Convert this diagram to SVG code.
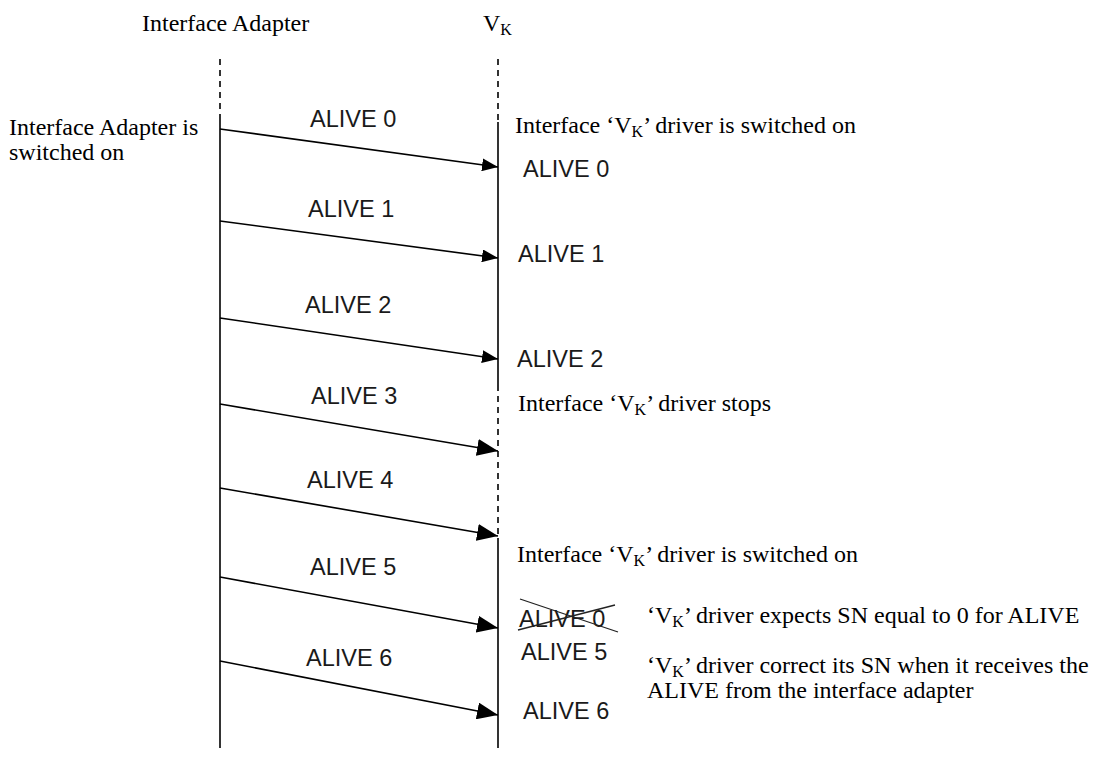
<svg xmlns="http://www.w3.org/2000/svg" width="1098" height="758" viewBox="0 0 1098 758">
  <style>
    .t { font-family: "Liberation Serif", "Times New Roman", serif; font-size: 24px; fill: #000; }
    .sub { font-size: 16px; }
    .a { font-family: "Liberation Sans", Arial, sans-serif; font-size: 23.5px; fill: #1a1a1a; }
    .life { stroke: #000; stroke-width: 1.6; fill: none; }
    .dash { stroke-dasharray: 6 5; }
    .msg { stroke: #000; stroke-width: 1.6; fill: none; }
    .x { stroke: #222; stroke-width: 1.3; }
  </style>
  <defs>
    <marker id="ah" markerUnits="userSpaceOnUse" markerWidth="16" markerHeight="13" refX="16" refY="6.5" orient="auto">
      <path d="M0,0 L16,6.5 L0,13 z" fill="#000"/>
    </marker>
    <marker id="ahL" markerUnits="userSpaceOnUse" markerWidth="21" markerHeight="17" refX="21" refY="8.5" orient="auto">
      <path d="M0,0 L21,8.5 L0,17 z" fill="#000"/>
    </marker>
  </defs>
  <rect width="1098" height="758" fill="#fff"/>

  <g id="lifeline-adapter">
    <text class="t" x="142" y="31">Interface Adapter</text>
    <line class="life dash" x1="220" y1="59" x2="220" y2="118"/>
    <line class="life" x1="220" y1="118" x2="220" y2="748"/>
  </g>

  <g id="lifeline-vk">
    <text class="t" x="483" y="31">V<tspan class="sub" dy="4">K</tspan></text>
    <line class="life dash" x1="498" y1="59" x2="498" y2="122"/>
    <line class="life" x1="498" y1="122" x2="498" y2="385"/>
    <line class="life dash" x1="498" y1="385" x2="498" y2="538"/>
    <line class="life" x1="498" y1="538" x2="498" y2="748"/>
  </g>

  <g id="connectors">
    <line class="msg" x1="220" y1="129" x2="498" y2="167" marker-end="url(#ah)"/>
    <line class="msg" x1="220" y1="221" x2="498" y2="258" marker-end="url(#ah)"/>
    <line class="msg" x1="220" y1="318" x2="498" y2="359" marker-end="url(#ah)"/>
    <line class="msg" x1="220" y1="404" x2="498" y2="451" marker-end="url(#ahL)"/>
    <line class="msg" x1="220" y1="488" x2="498" y2="536" marker-end="url(#ahL)"/>
    <line class="msg" x1="220" y1="577" x2="498" y2="628" marker-end="url(#ahL)"/>
    <line class="msg" x1="220" y1="661" x2="498" y2="715" marker-end="url(#ahL)"/>
  </g>

  <g id="msg-labels">
    <text class="a" x="310" y="127">ALIVE 0</text>
    <text class="a" x="308" y="217">ALIVE 1</text>
    <text class="a" x="305" y="313">ALIVE 2</text>
    <text class="a" x="311" y="404">ALIVE 3</text>
    <text class="a" x="307" y="488">ALIVE 4</text>
    <text class="a" x="310" y="575">ALIVE 5</text>
    <text class="a" x="306" y="666">ALIVE 6</text>
  </g>

  <g id="note-adapter-on">
    <text class="t" x="9" y="135">Interface Adapter is</text>
    <text class="t" x="9" y="160">switched on</text>
  </g>

  <g id="note-vk-on-1">
    <text class="t" x="515" y="133">Interface ‘V<tspan class="sub" dy="4">K</tspan><tspan dy="-4">’ driver is switched on</tspan></text>
  </g>

  <g id="received-labels">
    <text class="a" x="523" y="177">ALIVE 0</text>
    <text class="a" x="518" y="262">ALIVE 1</text>
    <text class="a" x="517" y="367">ALIVE 2</text>
  </g>

  <g id="note-vk-stops">
    <text class="t" x="518" y="411">Interface ‘V<tspan class="sub" dy="4">K</tspan><tspan dy="-4">’ driver stops</tspan></text>
  </g>

  <g id="note-vk-on-2">
    <text class="t" x="517" y="562">Interface ‘V<tspan class="sub" dy="4">K</tspan><tspan dy="-4">’ driver is switched on</tspan></text>
  </g>

  <g id="crossed-alive0">
    <text class="a" x="519" y="627">ALIVE 0</text>
    <line class="x" x1="520" y1="599" x2="618" y2="632"/>
    <line class="x" x1="518" y1="630" x2="615" y2="605"/>
  </g>

  <g id="received-labels-2">
    <text class="a" x="521" y="660">ALIVE 5</text>
    <text class="a" x="523" y="719">ALIVE 6</text>
  </g>

  <g id="note-expects">
    <text class="t" x="647" y="623">‘V<tspan class="sub" dy="4">K</tspan><tspan dy="-4">’ driver expects SN equal to 0 for ALIVE</tspan></text>
  </g>

  <g id="note-correct">
    <text class="t" x="647" y="673">‘V<tspan class="sub" dy="4">K</tspan><tspan dy="-4">’ driver correct its SN when it receives the</tspan></text>
    <text class="t" x="647" y="698">ALIVE from the interface adapter</text>
  </g>
</svg>
